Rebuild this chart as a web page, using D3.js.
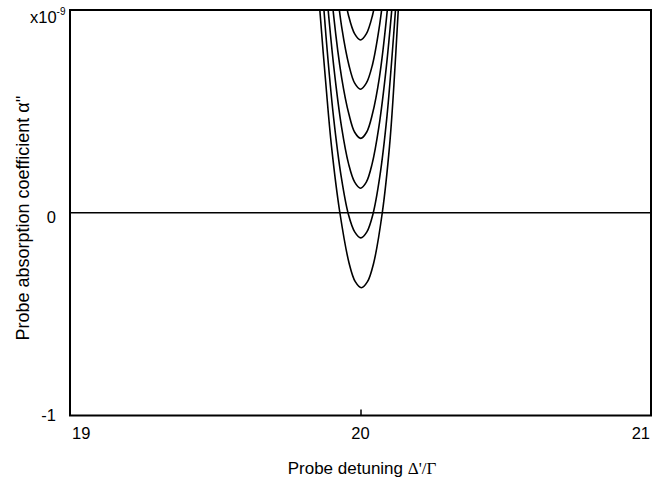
<!DOCTYPE html>
<html><head><meta charset="utf-8">
<script src="https://cdn.jsdelivr.net/npm/d3@7/dist/d3.min.js"></script>
<style>body{margin:0;background:#fff;} svg{display:block;} text{font-family:"Liberation Sans",Arial,sans-serif;fill:#000;}</style>
</head><body><svg id="c" width="669" height="481"></svg>
<script>
// x domain & ticks
const xTicks = [19, 20, 21];
const xTickLabels = ["19", "20", "21"];
const yTicks = [-1, 0, 1];
const yTickLabels = ["-1", "0", "x10"];
const yExponent = "-9";
// Each curve: [detuning, alpha (x1e-9)] points
const curve1 = [[19.849,1.23],[19.860,1.0],[19.881,0.63],[19.900,0.33],[19.929,0.0],[19.961,-0.25],[19.982,-0.34],[20.003,-0.37],[20.024,-0.34],[20.045,-0.25],[20.075,0.0],[20.100,0.33],[20.115,0.63],[20.130,1.0],[20.140,1.23]];
const curve2 = [[19.855,1.374],[19.881,0.874],[19.907,0.474],[19.934,0.174],[19.958,-0.006],[19.980,-0.094],[20.001,-0.124],[20.022,-0.094],[20.043,-0.006],[20.066,0.174],[20.091,0.474],[20.114,0.874],[20.139,1.374]];
const curve3 = [[19.881,1.121],[19.908,0.721],[19.935,0.421],[19.959,0.241],[19.980,0.151],[20.000,0.121],[20.020,0.151],[20.040,0.241],[20.063,0.421],[20.089,0.721],[20.115,1.121]];
const curve4 = [[19.884,1.367],[19.908,0.967],[19.935,0.667],[19.960,0.487],[19.980,0.397],[20.001,0.367],[20.021,0.397],[20.041,0.487],[20.065,0.667],[20.090,0.967],[20.114,1.367]];
const curve5 = [[19.910,1.209],[19.936,0.909],[19.960,0.729],[19.980,0.639],[20.000,0.609],[20.020,0.639],[20.041,0.729],[20.064,0.909],[20.090,1.209]];
const curve6 = [[19.935,1.152],[19.959,0.972],[19.980,0.882],[20.000,0.852],[20.020,0.882],[20.041,0.972],[20.064,1.152]];
const curves = [curve1, curve2, curve3, curve4, curve5, curve6];

const W = 669, H = 481;
const m = {left: 70, top: 10, right: W - 651, bottom: H - 415.5};
const svg = d3.select("#c");
const x = d3.scaleLinear().domain([19, 21]).range([m.left, W - m.right]);
const y = d3.scaleLinear().domain([-1, 1]).range([H - m.bottom, m.top]);

svg.append("clipPath").attr("id", "clip").append("rect")
  .attr("x", x(19)).attr("y", y(1)).attr("width", x(21) - x(19)).attr("height", y(-1) - y(1));

// zero line
svg.append("line").attr("x1", x(19)).attr("x2", x(21)).attr("y1", y(0)).attr("y2", y(0))
  .attr("stroke", "#000").attr("stroke-width", 1.6);

const line = d3.line().x(d => x(d[0])).y(d => y(d[1])).curve(d3.curveCatmullRom.alpha(0.5));
svg.append("g").attr("clip-path", "url(#clip)").selectAll("path").data(curves).join("path")
  .attr("d", line).attr("fill", "none").attr("stroke", "#000").attr("stroke-width", 1.6);

// bottom inner tick at 20
const xAxis = d3.axisBottom(x).tickValues([20]).tickSize(-6).tickFormat("");
const gx = svg.append("g").attr("transform", `translate(0,${y(-1)})`).call(xAxis);
gx.select(".domain").remove();
gx.selectAll("line").attr("stroke", "#000").attr("stroke-width", 1.5);

// frame
svg.append("rect").attr("x", x(19)).attr("y", y(1)).attr("width", x(21) - x(19)).attr("height", y(-1) - y(1))
  .attr("fill", "none").attr("stroke", "#000").attr("stroke-width", 2);

// x tick labels
svg.selectAll(".xt").data(xTicks).join("text").attr("class", "xt")
  .attr("x", (d, i) => i === 0 ? x(d) + 2 : i === xTicks.length - 1 ? x(d) - 1 : x(d))
  .attr("y", 439).attr("font-size", 16.5)
  .attr("text-anchor", (d, i) => i === 0 ? "start" : i === xTicks.length - 1 ? "end" : "middle")
  .text((d, i) => xTickLabels[i]);

// y tick labels
svg.append("text").attr("x", 56).attr("y", y(0) + 10).attr("font-size", 16.5).attr("text-anchor", "end").text(yTickLabels[1]);
svg.append("text").attr("x", 56).attr("y", y(-1) + 5).attr("font-size", 16.5).attr("text-anchor", "end").text(yTickLabels[0]);
const ex = svg.append("text").attr("x", 30).attr("y", 23).attr("font-size", 16.5).attr("text-anchor", "start");
ex.append("tspan").text(yTickLabels[2]);
ex.append("tspan").attr("font-size", 10).attr("dy", -8).text(yExponent);

// axis titles
svg.append("text").attr("x", 362).attr("y", 474).attr("font-size", 17).attr("text-anchor", "middle")
  .html("Probe detuning <tspan font-family='Liberation Serif'>\u0394'/\u0393</tspan>");
svg.append("text").attr("transform", "translate(29,218) rotate(-90)").attr("font-size", 18).attr("text-anchor", "middle")
  .text("Probe absorption coefficient \u03b1''");
</script></body></html>
